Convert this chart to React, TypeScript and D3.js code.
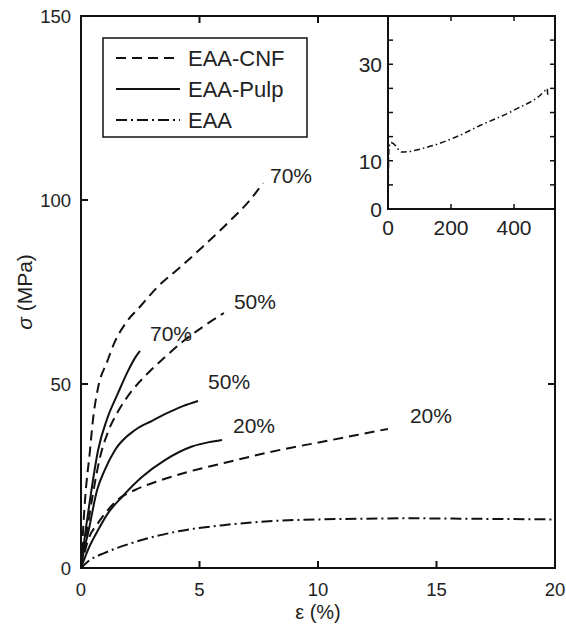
import React from "react";
import * as d3 from "d3";

// ---- data ----
const cnf70Eps = [0, 0.17, 0.38, 0.5, 0.72, 1.1, 1.43, 1.86, 2.49, 3.25, 4.2, 5.02, 6.2, 7.13, 7.68];
const cnf70Sig = [0, 18.5, 32, 40, 49, 56, 61.5, 66.3, 71, 76.5, 81.8, 86.6, 93.8, 100, 104.6];
const cnf50Eps = [0, 0.2, 0.5, 0.8, 1.14, 1.56, 2.07, 2.83, 3.54, 4.39, 5.2, 6.03];
const cnf50Sig = [0, 8, 20, 30, 37, 42.5, 47.5, 53, 57.3, 62, 65.8, 69.3];
const cnf20Eps = [0, 0.3, 0.72, 1.14, 1.56, 2.28, 3.25, 4.39, 6.08, 7.97, 10.5, 12.95];
const cnf20Sig = [0, 7.6, 12.2, 15.8, 18.6, 21.2, 23.6, 25.9, 28.6, 31.5, 34.7, 37.8];
const pulp70Eps = [0, 0.15, 0.38, 0.72, 1.1, 1.56, 1.98, 2.3, 2.49];
const pulp70Sig = [0, 8, 18.5, 32, 40.5, 47.5, 53.5, 57.3, 59];
const pulp50Eps = [0, 0.1, 0.3, 0.68, 1.0, 1.43, 2.28, 3.0, 3.54, 4.3, 4.94];
const pulp50Sig = [0, 4, 9.5, 21.2, 26.6, 32, 37.5, 40, 41.8, 44, 45.4];
const pulp20Eps = [0, 0.3, 0.72, 1.14, 1.73, 2.57, 3.54, 4.68, 5.4, 5.95];
const pulp20Sig = [0, 5, 10.3, 14.9, 19.3, 24.7, 29.3, 33, 34.2, 34.8];
const eaaEps = [0, 0.38, 1.0, 2.15, 3.97, 6.08, 8.19, 10, 12, 14, 16, 18, 20];
const eaaSig = [0, 2.2, 4.1, 6.8, 9.8, 11.7, 12.8, 13.2, 13.4, 13.5, 13.4, 13.3, 13.2];
const insetEps = [0, 1, 3, 8, 16, 44, 124, 229, 292, 397, 498, 505, 507];
const insetSig = [0, 6, 12.5, 13.8, 13.6, 11.8, 12.8, 15.3, 17.3, 20.4, 24.5, 25, 23.6];

const xTicks = [0, 5, 10, 15, 20];
const yTicks = [0, 50, 100, 150];
const insetXTicks = [0, 200, 400];
const insetYTicks = [0, 5, 10, 15, 20, 25, 30, 35, 40];
const insetYLabels = [0, 10, 30];

const legendNames = ["EAA-CNF", "EAA-Pulp", "EAA"];
const labelTexts = ["70%", "50%", "20%", "70%", "50%", "20%"];

const DASH = "10,6";
const DASHDOT = "11,4,2,4";
const FONT = "'Liberation Sans', Arial, sans-serif";

export default function App() {
  const W = 566, H = 632;
  const L = 81, R = 555, T = 16, B = 568;
  const x = d3.scaleLinear().domain([0, 20]).range([L, R]);
  const y = d3.scaleLinear().domain([0, 150]).range([B, T]);

  const line = d3
    .line<[number, number]>()
    .x((d) => x(d[0]))
    .y((d) => y(d[1]))
    .curve(d3.curveMonotoneX);

  const zip = (a: number[], b: number[]) => a.map((v, i) => [v, b[i]] as [number, number]);

  const series = [
    { pts: zip(cnf70Eps, cnf70Sig), dash: DASH },
    { pts: zip(cnf50Eps, cnf50Sig), dash: DASH },
    { pts: zip(cnf20Eps, cnf20Sig), dash: DASH },
    { pts: zip(pulp70Eps, pulp70Sig), dash: undefined },
    { pts: zip(pulp50Eps, pulp50Sig), dash: undefined },
    { pts: zip(pulp20Eps, pulp20Sig), dash: undefined },
    { pts: zip(eaaEps, eaaSig), dash: DASHDOT },
  ];

  const labelPos = [
    { s: 0, dx: 7, dy: 0 },
    { s: 1, dx: 10, dy: -4 },
    { s: 2, dx: 22, dy: -6 },
    { s: 3, dx: 10, dy: -10 },
    { s: 4, dx: 10, dy: -12 },
    { s: 5, dx: 11, dy: -7 },
  ];

  // inset
  const iL = 388, iR = 555, iT = 16, iB = 209;
  const ix = d3.scaleLinear().domain([0, 530]).range([iL, iR]);
  const iy = d3.scaleLinear().domain([0, 40]).range([iB, iT]);
  const iline = d3
    .line<[number, number]>()
    .x((d) => ix(d[0]))
    .y((d) => iy(d[1]))
    .curve(d3.curveMonotoneX);

  const tk = 7;
  const itk = 5;

  return (
    <svg
      width={W}
      height={H}
      style={{ position: "absolute", left: 0, top: 0, background: "#fff" }}
      fontFamily={FONT}
    >
      {series.map((s, i) => (
        <path
          key={i}
          d={line(s.pts) || ""}
          fill="none"
          stroke="#111"
          strokeWidth={2}
          strokeDasharray={s.dash}
        />
      ))}

      {labelPos.map((p, i) => {
        const last = series[p.s].pts[series[p.s].pts.length - 1];
        return (
          <text key={i} x={x(last[0]) + p.dx} y={y(last[1]) + p.dy} fontSize={21} fill="#222">
            {labelTexts[i]}
          </text>
        );
      })}

      <rect x={L} y={T} width={R - L} height={B - T} fill="none" stroke="#111" strokeWidth={2} />
      {xTicks.map((t) => (
        <g key={"x" + t}>
          <line x1={x(t)} x2={x(t)} y1={B} y2={B - tk} stroke="#111" strokeWidth={2} />
          <line x1={x(t)} x2={x(t)} y1={T} y2={T + tk} stroke="#111" strokeWidth={2} />
          <text x={x(t)} y={B + 28} fontSize={18.5} textAnchor="middle" fill="#222">
            {t}
          </text>
        </g>
      ))}
      {yTicks.map((t) => (
        <g key={"y" + t}>
          <line x1={L} x2={L + tk} y1={y(t)} y2={y(t)} stroke="#111" strokeWidth={2} />
          <line x1={R} x2={R - tk} y1={y(t)} y2={y(t)} stroke="#111" strokeWidth={2} />
          <text x={L - 10} y={y(t) + 7} fontSize={18.5} textAnchor="end" fill="#222">
            {t}
          </text>
        </g>
      ))}
      <text x={(L + R) / 2} y={619} fontSize={20} textAnchor="middle" fill="#222">
        ε (%)
      </text>
      <text
        transform={`translate(32, ${292}) rotate(-90)`}
        fontSize={21}
        textAnchor="middle"
        fill="#222"
      >
        <tspan fontStyle="italic">σ</tspan> (MPa)
      </text>

      {/* legend */}
      <rect x={103} y={38} width={204} height={99} fill="#fff" stroke="#111" strokeWidth={1.5} />
      {legendNames.map((n, i) => {
        const ly = 58 + i * 31;
        const dash = i === 0 ? DASH : i === 1 ? undefined : DASHDOT;
        return (
          <g key={n}>
            <line x1={116} x2={180} y1={ly} y2={ly} stroke="#111" strokeWidth={2} strokeDasharray={dash} />
            <text x={188} y={ly + 8} fontSize={22} fill="#222">
              {n}
            </text>
          </g>
        );
      })}

      {/* inset */}
      <rect x={iL} y={iT} width={iR - iL} height={iB - iT} fill="#fff" stroke="none" />
      <path
        d={iline(zip(insetEps, insetSig)) || ""}
        fill="none"
        stroke="#111"
        strokeWidth={1.5}
        strokeDasharray="6,3,1.5,3"
      />
      <rect x={iL} y={iT} width={iR - iL} height={iB - iT} fill="none" stroke="#111" strokeWidth={2} />
      {insetXTicks.map((t) => (
        <g key={"ix" + t}>
          <line x1={ix(t)} x2={ix(t)} y1={iB} y2={iB - itk} stroke="#111" strokeWidth={1.5} />
          <line x1={ix(t)} x2={ix(t)} y1={iT} y2={iT + itk} stroke="#111" strokeWidth={1.5} />
          <text x={ix(t)} y={iB + 26} fontSize={21} textAnchor="middle" fill="#222">
            {t}
          </text>
        </g>
      ))}
      {insetYTicks.map((t) => (
        <g key={"iy" + t}>
          <line x1={iL} x2={iL + itk} y1={iy(t)} y2={iy(t)} stroke="#111" strokeWidth={1.5} />
          <line x1={iR} x2={iR - itk} y1={iy(t)} y2={iy(t)} stroke="#111" strokeWidth={1.5} />
        </g>
      ))}
      {insetYLabels.map((t) => (
        <text key={"iyl" + t} x={iL - 6} y={iy(t) + 8} fontSize={21} textAnchor="end" fill="#222">
          {t}
        </text>
      ))}
    </svg>
  );
}
